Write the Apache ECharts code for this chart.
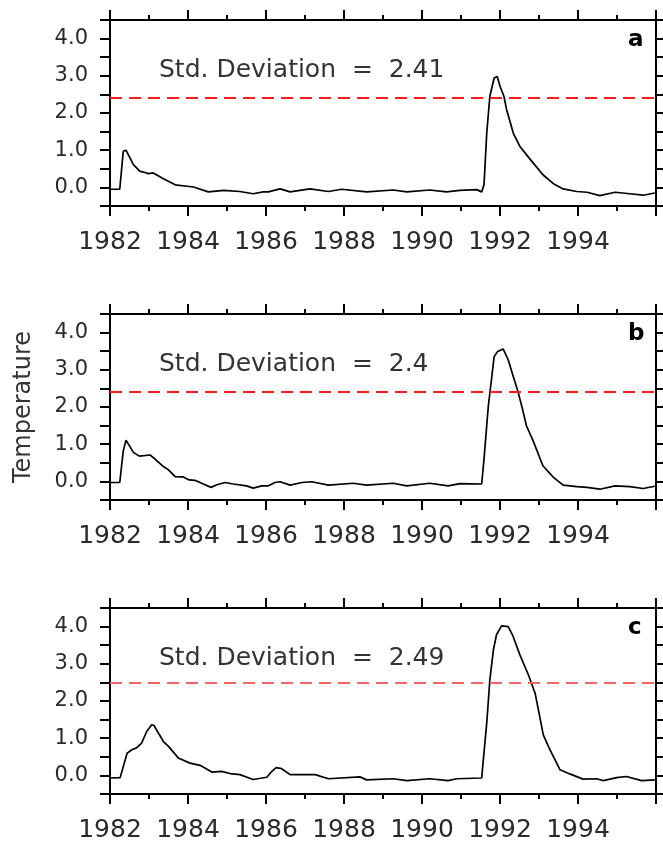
<!DOCTYPE html>
<html>
<head>
<meta charset="utf-8">
<style>
  html, body { margin: 0; padding: 0; background: #fff; }
  #chart { width: 663px; height: 842px; }
</style>
<script src="https://cdn.jsdelivr.net/npm/echarts@6/dist/echarts.min.js"></script>
</head>
<body>
<div id="chart"></div>
<script>
// ---- Data ----
const yearsA = [1982.02,1982.25,1982.34,1982.41,1982.6,1982.77,1982.9,1982.98,1983.11,1983.37,1983.67,1984.14,1984.52,1984.91,1985.33,1985.67,1985.93,1986.06,1986.36,1986.62,1986.87,1987.13,1987.6,1987.94,1988.58,1989.26,1989.61,1990.2,1990.63,1990.97,1991.4,1991.53,1991.59,1991.66,1991.74,1991.85,1991.93,1992.0,1992.1,1992.17,1992.34,1992.51,1992.77,1992.85,1993.1,1993.37,1993.62,1993.97,1994.23,1994.56,1994.95,1995.33,1995.67,1995.97];
const tempA  = [-0.05,-0.05,0.97,1.0,0.61,0.43,0.40,0.37,0.39,0.23,0.07,0.01,-0.12,-0.08,-0.11,-0.17,-0.12,-0.12,-0.04,-0.12,-0.08,-0.04,-0.11,-0.05,-0.12,-0.07,-0.12,-0.07,-0.12,-0.08,-0.06,-0.12,0.07,1.46,2.45,2.94,2.98,2.72,2.45,2.09,1.46,1.10,0.76,0.66,0.34,0.10,-0.04,-0.11,-0.13,-0.22,-0.13,-0.17,-0.21,-0.15];

const yearsB = [1982.02,1982.25,1982.34,1982.41,1982.6,1982.75,1983.03,1983.11,1983.37,1983.5,1983.67,1983.88,1984.03,1984.18,1984.35,1984.59,1984.74,1984.95,1985.16,1985.5,1985.67,1985.89,1986.06,1986.23,1986.36,1986.62,1986.92,1987.17,1987.6,1988.24,1988.58,1989.26,1989.61,1990.2,1990.67,1990.97,1991.53,1991.59,1991.7,1991.79,1991.85,1991.94,1992.08,1992.21,1992.34,1992.47,1992.58,1992.68,1992.85,1993.1,1993.37,1993.62,1993.97,1994.23,1994.56,1994.95,1995.33,1995.67,1995.97];
const tempB  = [-0.03,-0.03,0.82,1.11,0.78,0.68,0.71,0.64,0.40,0.31,0.13,0.12,0.04,0.03,-0.05,-0.16,-0.09,-0.03,-0.07,-0.12,-0.18,-0.12,-0.12,-0.03,-0.01,-0.10,-0.03,-0.01,-0.10,-0.05,-0.10,-0.05,-0.12,-0.05,-0.12,-0.06,-0.07,0.60,2.02,2.82,3.36,3.49,3.56,3.27,2.82,2.38,1.93,1.49,1.09,0.42,0.11,-0.10,-0.14,-0.16,-0.21,-0.12,-0.14,-0.19,-0.13];

const yearsC = [1982.02,1982.26,1982.44,1982.56,1982.68,1982.81,1982.94,1983.07,1983.13,1983.24,1983.37,1983.5,1983.75,1984.05,1984.31,1984.61,1984.86,1985.08,1985.33,1985.67,1986.02,1986.15,1986.26,1986.4,1986.62,1986.87,1987.26,1987.6,1988.41,1988.58,1989.26,1989.61,1990.2,1990.67,1990.89,1991.53,1991.66,1991.74,1991.83,1991.91,1992.04,1992.21,1992.32,1992.51,1992.73,1992.9,1993.0,1993.11,1993.28,1993.54,1993.79,1994.13,1994.48,1994.65,1994.99,1995.24,1995.63,1995.97];
const tempC  = [-0.07,-0.06,0.60,0.69,0.74,0.87,1.18,1.36,1.34,1.14,0.91,0.78,0.47,0.33,0.27,0.09,0.11,0.05,0.02,-0.11,-0.05,0.11,0.21,0.18,0.02,0.02,0.02,-0.09,-0.04,-0.12,-0.09,-0.14,-0.09,-0.14,-0.09,-0.07,1.41,2.57,3.37,3.78,4.02,4.00,3.78,3.24,2.70,2.21,1.68,1.09,0.69,0.15,0.04,-0.10,-0.09,-0.14,-0.06,-0.03,-0.14,-0.12];

const stdDevs = [2.41, 2.4, 2.49];
const panelLetters = ['a', 'b', 'c'];
const stdColors = ['#ff1a1a', '#ff1a1a', '#f46464'];
const yTickLabels = ['0.0', '1.0', '2.0', '3.0', '4.0'];
const xTickLabels = ['1982', '1984', '1986', '1988', '1990', '1992', '1994'];
const yLabel = 'Temperature';

// ---- Layout ----
const FONT = 'DejaVu Sans';
const gridTops = [20, 314, 608];
const gridLeft = 110, gridRight = 7, gridHeight = 186;
const seriesX = [yearsA, yearsB, yearsC];
const seriesY = [tempA, tempB, tempC];

const grids = [], xAxes = [], yAxes = [], series = [], graphics = [];
const axisLine = { show: true, onZero: false, lineStyle: { color: '#000', width: 2 } };

for (let i = 0; i < 3; i++) {
  grids.push({ left: gridLeft, right: gridRight, top: gridTops[i], height: gridHeight, containLabel: false, outerBoundsMode: 'none' });
  // bottom x axis
  xAxes.push({
    type: 'value', gridIndex: i, position: 'bottom', min: 1982, max: 1996, interval: 2,
    axisLine: axisLine,
    axisTick: { show: true, inside: false, length: 10, lineStyle: { color: '#000', width: 2 } },
    minorTick: { show: true, splitNumber: 2, length: 5, lineStyle: { color: '#000', width: 2 } },
    splitLine: { show: false },
    axisLabel: {
      show: true, margin: 24, fontFamily: FONT, fontSize: 25, color: '#2a2a2a',
      formatter: v => { const s = String(Math.round(v)); return xTickLabels.includes(s) ? s : ''; }
    }
  });
  // top x axis (ticks only)
  xAxes.push({
    type: 'value', gridIndex: i, position: 'top', min: 1982, max: 1996, interval: 2,
    axisLine: axisLine,
    axisTick: { show: true, inside: false, length: 10, lineStyle: { color: '#000', width: 2 } },
    minorTick: { show: true, splitNumber: 2, length: 5, lineStyle: { color: '#000', width: 2 } },
    splitLine: { show: false },
    axisLabel: { show: false }
  });
  // left y axis
  yAxes.push({
    type: 'value', gridIndex: i, position: 'left', min: -0.5, max: 4.5, interval: 0.5,
    axisLine: axisLine,
    axisTick: { show: true, inside: false, length: 10, lineStyle: { color: '#000', width: 2 } },
    splitLine: { show: false },
    axisLabel: {
      show: true, margin: 22, fontFamily: FONT, fontSize: 21, color: '#2a2a2a',
      formatter: v => { const s = v.toFixed(1); return yTickLabels.includes(s) ? s : ''; }
    },
    name: i === 1 ? yLabel : '',
    nameLocation: 'middle', nameGap: 74, nameRotate: 90,
    nameTextStyle: { fontFamily: FONT, fontSize: 24, color: '#333' }
  });
  // right y axis (ticks only)
  yAxes.push({
    type: 'value', gridIndex: i, position: 'right', min: -0.5, max: 4.5, interval: 0.5,
    axisLine: axisLine,
    axisTick: { show: true, inside: false, length: 8, lineStyle: { color: '#000', width: 2 } },
    splitLine: { show: false },
    axisLabel: { show: false }
  });

  const pts = seriesX[i].map((x, k) => [x, seriesY[i][k]]);
  series.push({
    type: 'line', xAxisIndex: 2 * i, yAxisIndex: 2 * i, data: pts,
    showSymbol: false, symbol: 'none', smooth: false,
    lineStyle: { color: '#000', width: 1.7 },
    markLine: {
      silent: true, symbol: ['none', 'none'], label: { show: false },
      emphasis: { disabled: true },
      lineStyle: { color: stdColors[i], type: [12, 7], width: 2, opacity: 1 },
      data: [{ yAxis: stdDevs[i] }]
    }
  });

  graphics.push({
    type: 'text', left: 159, top: gridTops[i] + 38,
    style: { text: 'Std. Deviation  =  ' + stdDevs[i], font: '25px "' + FONT + '"', fill: '#333' }
  });
  graphics.push({
    type: 'text', left: 628, top: gridTops[i] + 9,
    style: { text: panelLetters[i], font: 'bold 23px "' + FONT + '"', fill: '#000' }
  });
}

const chart = echarts.init(document.getElementById('chart'), null, { renderer: 'canvas' });
chart.setOption({
  animation: false,
  backgroundColor: '#fff',
  grid: grids,
  xAxis: xAxes,
  yAxis: yAxes,
  series: series,
  graphic: graphics
});
</script>
</body>
</html>
